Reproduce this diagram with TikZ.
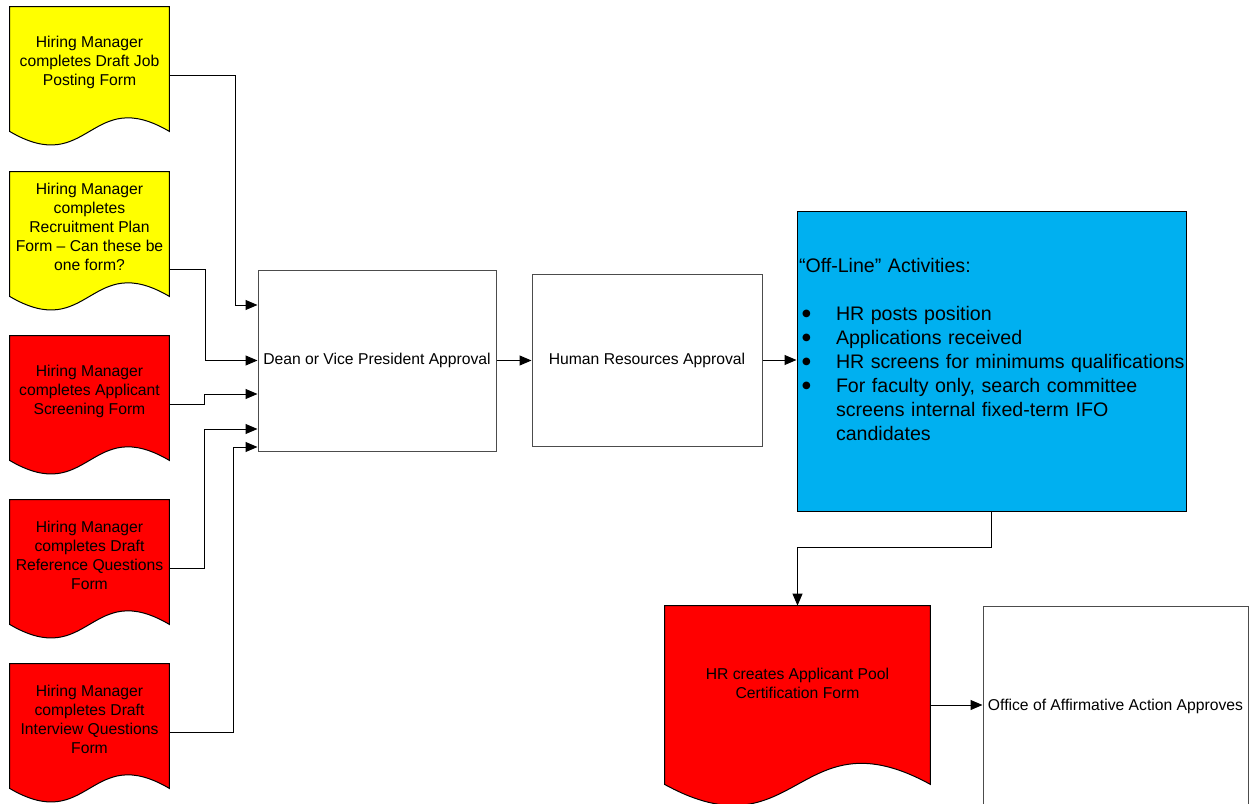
\documentclass[tikz,border=0pt]{standalone}
\usepackage{fontspec}
\setmainfont{Liberation Sans}
\newfontfamily\dotfont{DejaVu Sans}
\usepackage{tikz}
\usetikzlibrary{arrows.meta}
\usetikzlibrary{backgrounds}

\definecolor{formyellow}{RGB}{255,255,0}
\definecolor{formred}{RGB}{255,0,0}
\definecolor{offlineblue}{RGB}{0,176,240}

\newcommand{\boxfont}{\fontsize{7.85}{9.5}\selectfont}
\newcommand{\listfont}{\fontsize{9.8}{12}\selectfont}
\newcommand{\bitem}[1]{\mbox{\makebox[18.5pt][l]{\hspace{1.5pt}\raisebox{1.8pt}{\dotfont\fontsize{5}{6}\selectfont ●}}#1}}
% form outline: square top, wavy bottom hanging below the text node
\newcommand{\formshape}[4]{%
	\filldraw[formline, fill=#2] (#1.north west) -- ([yshift=-#3]#1.south west)
		.. controls ([yshift=-#3-#4]#1.south) and ([yshift=-#3+#4]#1.south) .. ([yshift=-#3]#1.south east)
		-- (#1.north east) -- cycle;}

\begin{document}
\begin{tikzpicture}[x=0.5pt, y=-0.5pt,
	form/.style={align=center, inner sep=0pt, font=\boxfont, minimum width=79.5pt, minimum height=55pt},
	formline/.style={draw=black, line width=0.5pt},
	approval/.style={draw=black!70, line width=0.5pt, fill=white, font=\boxfont, inner xsep=2pt},
	offline/.style={draw=black, line width=0.5pt, fill=offlineblue, font=\listfont, align=left, text width=192.5pt, inner xsep=1pt, minimum width=194.5pt, minimum height=150pt},
	link/.style={draw=black, line width=0.5pt, -{Triangle[length=6pt,width=5pt]}}]
	\useasboundingbox (0,0) rectangle (1250,804);

	\node[form] (hmjob) at (89.5,62) {Hiring Manager\\completes Draft Job\\Posting Form};
	\node[form] (hmplan) at (89.5,227) {Hiring Manager\\completes\\Recruitment Plan\\Form – Can these be\\one form?};
	\node[form] (hmscreen) at (89.5,391) {Hiring Manager\\completes Applicant\\Screening Form};
	\node[form] (hmref) at (89.5,555) {Hiring Manager\\completes Draft\\Reference Questions\\Form};
	\node[form] (hminterview) at (89.5,719) {Hiring Manager\\completes Draft\\Interview Questions\\Form};

	\node[approval, minimum width=119pt, minimum height=90.5pt] (dean) at (377,360.5) {Dean or Vice President Approval};
	\node[approval, minimum width=115pt, minimum height=86pt] (hr) at (647,360) {Human Resources Approval};
	\node[offline] (activities) at (991.5,361) {“Off-Line” Activities:\\
		\mbox{}\\
		\bitem{HR posts position}\\
		\bitem{Applications received}\\
		\bitem{HR screens for minimums qualifications}\\
		\bitem{For faculty only, search committee}\\
		\hspace*{18.5pt}\mbox{screens internal fixed-term IFO}\\
		\hspace*{18.5pt}candidates\\
		\mbox{}};

	\node[form, minimum width=132.5pt, minimum height=77pt] (pool) at (797.5,683) {HR creates Applicant Pool\\Certification Form};
	\node[approval, minimum width=132.5pt, minimum height=100pt] (affirm) at (1115.5,706) {Office of Affirmative Action Approves};

	\begin{pgfonlayer}{background}
		\formshape{hmjob}{formyellow}{7pt}{23.5pt}
		\formshape{hmplan}{formyellow}{7pt}{23.5pt}
		\formshape{hmscreen}{formred}{7pt}{23.5pt}
		\formshape{hmref}{formred}{7pt}{23.5pt}
		\formshape{hminterview}{formred}{7pt}{23.5pt}
		\formshape{pool}{formred}{12pt}{36.5pt}
	\end{pgfonlayer}

	\draw[link] ([yshift=-6.5pt]hmjob.east) -- ++(66,0) |- ([yshift=27.75pt]dean.west);
	\draw[link] ([yshift=-21pt]hmplan.east) -- ++(36,0) |- (dean.west);
	\draw[link] ([yshift=-6.5pt]hmscreen.east) -- ++(35,0) |- ([yshift=-16.75pt]dean.west);
	\draw[link] ([yshift=-6.5pt]hmref.east) -- ++(35,0) |- ([yshift=-34.25pt]dean.west);
	\draw[link] ([yshift=-6.5pt]hminterview.east) -- ++(64,0) |- ([yshift=-43.25pt]dean.west);
	\draw[link] (dean.east) -- (dean.east -| hr.west);
	\draw[link] (hr.east) -- (hr.east -| activities.west);
	\draw[link] (activities.south) -- ++(0,36) -| (pool.north);
	\draw[link] ([yshift=-11pt]pool.east) -- ([yshift=-11pt]pool.east -| affirm.west);
\end{tikzpicture}
\end{document}
